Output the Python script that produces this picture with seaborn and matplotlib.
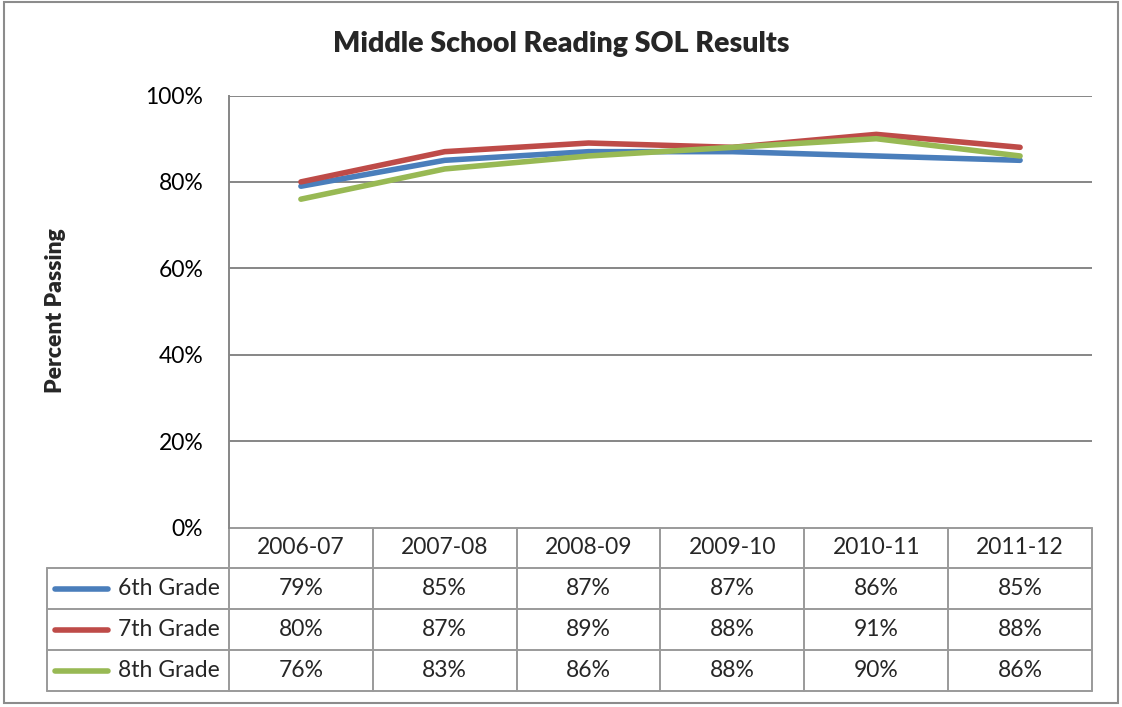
import matplotlib
matplotlib.use("Agg")
import matplotlib.pyplot as plt
import seaborn as sns
import pandas as pd
from matplotlib.lines import Line2D
from matplotlib.patches import Rectangle

# School years and reading pass rates (%) by grade
years = ["2006-07", "2007-08", "2008-09", "2009-10", "2010-11", "2011-12"]
grades = ["6th Grade", "7th Grade", "8th Grade"]
grade6 = [79, 85, 87, 87, 86, 85]
grade7 = [80, 87, 89, 88, 91, 88]
grade8 = [76, 83, 86, 88, 90, 86]
y_ticks = [0, 20, 40, 60, 80, 100]
colors = ["#4a7ebb", "#be4b48", "#98b954"]

sns.set_theme(style="white")
plt.rcParams["font.family"] = ["Lato", "DejaVu Sans"]

series = [grade6, grade7, grade8]
df = pd.DataFrame({
    "year": [y for _ in grades for y in years],
    "pos": [i for _ in grades for i in range(len(years))],
    "grade": [g for g in grades for _ in years],
    "value": [v for s in series for v in s],
})

W, H = 1122, 707
FS = 16.5
fig = plt.figure(figsize=(W / 100, H / 100), dpi=100)

# pixel-space overlay for frame, table and labels
bg = fig.add_axes([0, 0, 1, 1])
bg.set_xlim(0, W)
bg.set_ylim(H, 0)
bg.axis("off")

# plot area geometry (pixels)
L, R, T, B = 229, 1092, 95.5, 527.5
ax = fig.add_axes([L / W, 1 - B / H, (R - L) / W, (B - T) / H])
ax.patch.set_alpha(0)

sns.lineplot(data=df, x="pos", y="value", hue="grade", palette=colors,
             linewidth=4, legend=False, ax=ax, solid_capstyle="round",
             solid_joinstyle="round")
ax.set_xlim(-0.5, len(years) - 0.5)
ax.set_ylim(0, 100)
ax.set_yticks(y_ticks)
ax.set_yticklabels([f"{t}%" for t in y_ticks], fontsize=FS)
ax.set_xticks([])
ax.set_xlabel("")
ax.set_ylabel("")
grid_c = "#868686"
for t in y_ticks[1:]:
    ax.axhline(t, color=grid_c, lw=1.4, zorder=0)
for side in ["top", "right", "bottom"]:
    ax.spines[side].set_visible(False)
ax.spines["left"].set_color(grid_c)
ax.spines["left"].set_linewidth(1.4)
ax.tick_params(axis="y", length=0, pad=18.5, labelcolor="black")

# outer chart frame
bg.add_patch(Rectangle((4, 2), W - 8, H - 6, fill=False, ec="#8c8c8c", lw=1.5))

fig.text(0.5, 1 - 44 / H, "Middle School Reading SOL Results", ha="center",
         va="center", fontsize=20.5, fontweight="heavy")
fig.text(55 / W, 1 - 311 / H, "Percent Passing", ha="center", va="center",
         rotation=90, fontsize=16.5, fontweight="heavy")

# data table beneath the plot area
tbl_c = "#9a9a9a"
col_w = (R - L) / len(years)
rows_y = [527.5, 568, 609, 650, 691]
leg_left = 47
for j in range(len(years) + 1):
    x = L + j * col_w
    bg.plot([x, x], [rows_y[0], rows_y[-1]], color=tbl_c, lw=1.4)
bg.plot([leg_left, leg_left], [rows_y[1], rows_y[-1]], color=tbl_c, lw=1.4)
bg.plot([L, R], [rows_y[0], rows_y[0]], color=tbl_c, lw=1.4)
for y in rows_y[1:]:
    bg.plot([leg_left, R], [y, y], color=tbl_c, lw=1.4)

for j, yr in enumerate(years):
    cx = L + (j + 0.5) * col_w
    bg.text(cx, (rows_y[0] + rows_y[1]) / 2, yr, ha="center", va="center",
            fontsize=FS)
for i, (g, s, c) in enumerate(zip(grades, series, colors)):
    cy = (rows_y[i + 1] + rows_y[i + 2]) / 2
    bg.add_line(Line2D([55, 108], [cy, cy], color=c, lw=4,
                       solid_capstyle="round"))
    bg.text(220, cy, g, ha="right", va="center", fontsize=FS)
    for j, v in enumerate(s):
        cx = L + (j + 0.5) * col_w
        bg.text(cx, cy, f"{v}%", ha="center", va="center", fontsize=FS)

fig.savefig("out.png", dpi=100)
